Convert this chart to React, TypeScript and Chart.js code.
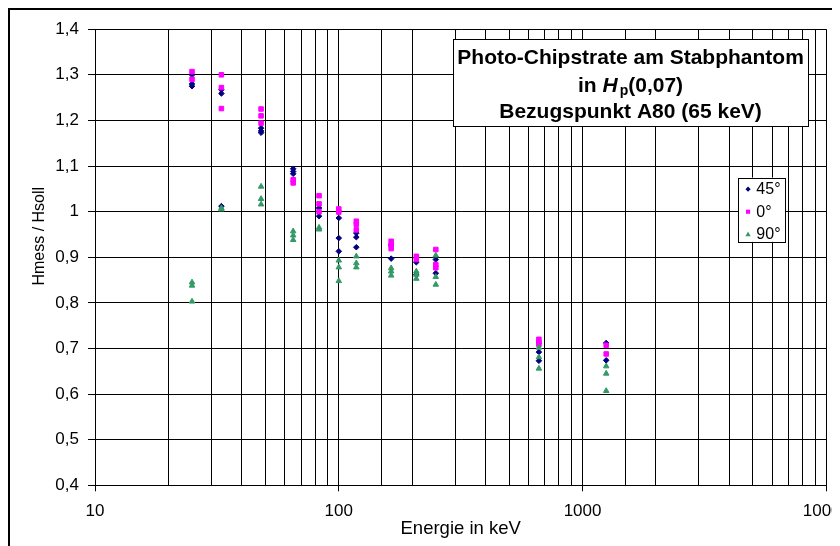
import React, { useEffect, useRef } from 'react';
import { Chart, registerables } from 'chart.js';

Chart.register(...registerables);

// ---- data ----
const energies = [25, 33, 48, 65, 83, 100, 118, 164, 208, 250, 662, 1250];
const deg45 = [
  [1.3, 1.28, 1.275],
  [1.267, 1.259, 1.012],
  [1.183, 1.177, 1.173],
  [1.094, 1.088, 1.083],
  [1.008, 0.99],
  [0.986, 0.942, 0.913],
  [0.953, 0.944, 0.922],
  [0.927, 0.897],
  [0.889, 0.862],
  [0.895, 0.865],
  [0.712, 0.692, 0.673],
  [0.712, 0.674],
];
const deg0 = [
  [1.307, 1.29],
  [1.3, 1.272, 1.226],
  [1.225, 1.21, 1.194],
  [1.07, 1.063],
  [1.035, 1.017, 1.0],
  [1.006, 0.999],
  [0.979, 0.972, 0.96],
  [0.935, 0.927, 0.919],
  [0.902, 0.895],
  [0.917, 0.884, 0.877],
  [0.72, 0.714, 0.709],
  [0.707, 0.688],
];
const deg90 = [
  [0.845, 0.838, 0.803],
  [1.008, 1.005],
  [1.055, 1.028, 1.016],
  [0.957, 0.948, 0.938],
  [0.965, 0.961],
  [0.893, 0.878, 0.848],
  [0.902, 0.887, 0.878],
  [0.876, 0.869, 0.86],
  [0.869, 0.862, 0.853],
  [0.904, 0.857, 0.84],
  [0.702, 0.681, 0.656],
  [0.661, 0.645, 0.607],
];
const seriesLabels = ['45°', '0°', '90°'];
const seriesColors = ['#000080', '#FF00FF', '#339966'];
const xTickValues = [10, 100, 1000, 10000];
const xTickLabels = ['10', '100', '1000', '10000'];
const yTickLabels = ['0,4', '0,5', '0,6', '0,7', '0,8', '0,9', '1', '1,1', '1,2', '1,3', '1,4'];
const titleLine1 = 'Photo-Chipstrate am Stabphantom';
const titleLine2 = ['in ', 'H', 'p', '(0,07)'];
const titleLine3 = 'Bezugspunkt A80 (65 keV)';
const xTitle = 'Energie in keV';
const yTitle = 'Hmess / Hsoll';

const FONT = '"Liberation Sans", Arial, Helvetica, sans-serif';

function toPoints(vals: number[][]) {
  return energies.flatMap((e, i) => vals[i].map((v) => ({ x: e, y: v })));
}

function majorIndex(v: number) {
  return xTickValues.findIndex((t) => Math.abs(t - v) < 1e-6 * t);
}

function drawMarker(ctx: CanvasRenderingContext2D, style: string, x: number, y: number, s: number) {
  ctx.beginPath();
  if (style === 'rectRot') {
    ctx.moveTo(x, y - s);
    ctx.lineTo(x + s, y);
    ctx.lineTo(x, y + s);
    ctx.lineTo(x - s, y);
  } else if (style === 'rect') {
    ctx.rect(x - s * 0.8, y - s * 0.8, s * 1.6, s * 1.6);
  } else {
    ctx.moveTo(x, y - s);
    ctx.lineTo(x + s, y + s * 0.8);
    ctx.lineTo(x - s, y + s * 0.8);
  }
  ctx.closePath();
  ctx.fill();
}

const overlayPlugin = {
  id: 'overlay',
  afterDraw(chart: any) {
    const ctx: CanvasRenderingContext2D = chart.ctx;
    const a = chart.chartArea;
    ctx.save();
    ctx.fillStyle = '#000';

    // y-axis title
    ctx.save();
    ctx.font = `16px ${FONT}`;
    ctx.translate(a.left - 55, (a.top + a.bottom) / 2 - 21);
    ctx.rotate(-Math.PI / 2);
    ctx.textAlign = 'center';
    ctx.textBaseline = 'middle';
    ctx.fillText(yTitle, 0, 0);
    ctx.restore();

    // title box
    const bx = a.right - 373.3;
    const by = a.top + 10;
    const bw = 355;
    const bh = 87.4;
    ctx.fillStyle = '#fff';
    ctx.fillRect(bx, by, bw, bh);
    ctx.strokeStyle = '#000';
    ctx.lineWidth = 1;
    ctx.strokeRect(Math.round(bx) + 0.5, Math.round(by) + 0.5, Math.round(bw), Math.round(bh));
    ctx.fillStyle = '#000';
    const cx = bx + bw / 2;
    ctx.textBaseline = 'alphabetic';
    ctx.textAlign = 'center';
    ctx.font = `bold 21px ${FONT}`;
    ctx.fillText(titleLine1, cx, by + 25);
    ctx.fillText(titleLine3, cx, by + 79);
    // line 2 with italic H and subscript p
    const fNorm = `bold 21px ${FONT}`;
    const fItal = `italic bold 21px ${FONT}`;
    const fSub = `bold 14px ${FONT}`;
    const parts = [
      { t: titleLine2[0], f: fNorm, dy: 0 },
      { t: titleLine2[1], f: fItal, dy: 0 },
      { t: titleLine2[2], f: fSub, dy: 3 },
      { t: titleLine2[3], f: fNorm, dy: 0 },
    ];
    let total = 0;
    const widths = parts.map((p) => {
      ctx.font = p.f;
      const w = ctx.measureText(p.t).width;
      total += w;
      return w;
    });
    total += 2;
    let px = cx - total / 2;
    ctx.textAlign = 'left';
    parts.forEach((p, i) => {
      ctx.font = p.f;
      ctx.fillText(p.t, px, by + 52.7 + p.dy);
      px += widths[i] + (i === 1 ? 2 : 0);
    });

    // legend
    const lx = a.right - 88.3;
    const ly = a.top + 148.4;
    const lw = 47.3;
    const lh = 64.3;
    ctx.fillStyle = '#fff';
    ctx.fillRect(lx, ly, lw, lh);
    ctx.strokeStyle = '#000';
    ctx.strokeRect(Math.round(lx) + 0.5, Math.round(ly) + 0.5, Math.round(lw), Math.round(lh));
    const styles = ['rectRot', 'rect', 'triangle'];
    ctx.font = `16px ${FONT}`;
    ctx.textAlign = 'left';
    ctx.textBaseline = 'alphabetic';
    seriesLabels.forEach((lab, i) => {
      const yy = ly + 11.6 + i * 22.5;
      ctx.fillStyle = seriesColors[i];
      drawMarker(ctx, styles[i], lx + 10, yy, 2.6);
      ctx.fillStyle = '#000';
      ctx.fillText(lab, lx + 18.3, ly + 16.6 + i * 22.5);
    });

    ctx.restore();
  },
};

export default function App() {
  const ref = useRef<HTMLCanvasElement>(null);
  useEffect(() => {
    document.documentElement.style.overflow = 'hidden';
    document.body.style.overflow = 'hidden';
    const datasets = [
      { label: seriesLabels[0], data: toPoints(deg45), pointStyle: 'rectRot', pointRadius: 2.8, order: 3 },
      { label: seriesLabels[1], data: toPoints(deg0), pointStyle: 'rect', pointRadius: 3.2, order: 2 },
      { label: seriesLabels[2], data: toPoints(deg90), pointStyle: 'triangle', pointRadius: 3.2, order: 1 },
    ].map((d, i) => ({
      ...d,
      backgroundColor: seriesColors[i],
      borderColor: seriesColors[i],
      borderWidth: 1,
      pointHoverRadius: d.pointRadius,
      showLine: false,
    }));
    const chart = new Chart(ref.current as HTMLCanvasElement, {
      type: 'scatter',
      data: { datasets } as any,
      plugins: [overlayPlugin as any],
      options: {
        animation: false,
        responsive: false,
        maintainAspectRatio: false,
        layout: { padding: { left: 0, top: 18.3, right: 30, bottom: 0 } },
        plugins: {
          legend: { display: false },
          tooltip: { enabled: false },
          title: { display: false },
        },
        scales: {
          x: {
            type: 'logarithmic',
            min: 10,
            max: 10000,
            position: 'bottom',
            afterFit: (s: any) => {
              s.height = 64.7;
            },
            grid: {
              color: '#000',
              lineWidth: 1,
              drawTicks: true,
              tickLength: 6,
              tickColor: (c: any) => (c.tick && majorIndex(c.tick.value) >= 0 ? '#000' : 'rgba(0,0,0,0)'),
            },
            border: { display: true, color: '#000', width: 1 },
            ticks: {
              autoSkip: false,
              maxRotation: 0,
              minRotation: 0,
              padding: 10,
              color: '#000',
              font: { family: FONT, size: 17 },
              callback: (v: any) => {
                const i = majorIndex(Number(v));
                return i >= 0 ? xTickLabels[i] : '';
              },
            },
            title: {
              display: true,
              text: xTitle,
              color: '#000',
              font: { family: FONT, size: 18.5 },
              padding: { top: 0, bottom: 10 },
            },
          },
          y: {
            type: 'linear',
            min: 0.4,
            max: 1.4,
            afterFit: (s: any) => {
              s.width = 85;
            },
            grid: { color: '#000', lineWidth: 1, tickLength: 7, tickColor: '#000' },
            border: { display: true, color: '#000', width: 1 },
            ticks: {
              stepSize: 0.1,
              padding: 9,
              color: '#000',
              font: { family: FONT, size: 17 },
              callback: (v: any) => {
                const i = Math.round((Number(v) - 0.4) * 10);
                return yTickLabels[i] ?? '';
              },
            },
          },
        },
      } as any,
    });
    return () => chart.destroy();
  }, []);
  return (
    <div style={{ width: 850, height: 540, border: '2px solid #000', background: '#fff' }}>
      <canvas ref={ref} width={850} height={540} style={{ display: 'block', width: 850, height: 540 }} />
    </div>
  );
}
